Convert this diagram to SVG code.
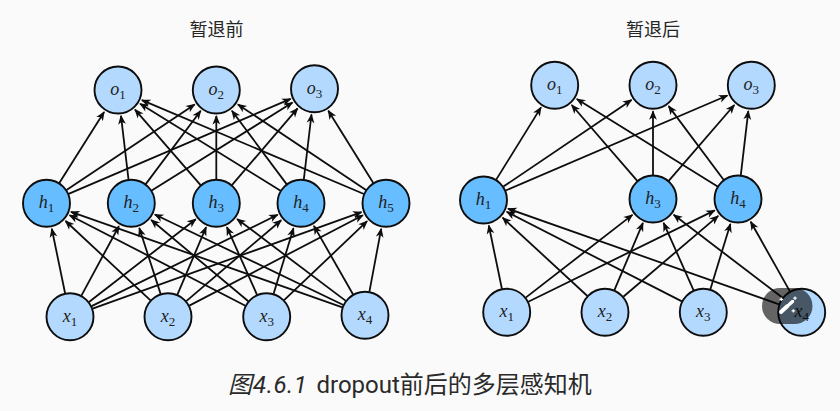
<svg xmlns="http://www.w3.org/2000/svg" width="840" height="411" viewBox="0 0 840 411">
<style>
.c{fill:none;stroke:#0d0d0d;stroke-width:1.8;marker-end:url(#a)}
.n{stroke:#0d0d0d;stroke-width:1.9}
.l{fill:#b3d9ff}.h{fill:#66bdff}
.t{font:italic 18px "Liberation Serif",serif;fill:#222;text-anchor:middle}
.s{font-size:13px;font-style:normal}
.ti{font:18px "Noto Sans CJK SC",sans-serif;fill:#262626;text-anchor:middle}
.cap{font:400 24px Roboto,"Noto Sans CJK SC",sans-serif;fill:#2a2a2a}
</style>
<defs>
<marker id="a" markerUnits="userSpaceOnUse" viewBox="-1 -5 12 10" markerWidth="12" markerHeight="10" refX="8.5" refY="0" orient="auto">
<path d="M0,-3.9L9.5,0L0,3.9L2.6,0Z" fill="#0d0d0d"/>
</marker>
<circle id="nc" r="23.5" class="n"/>
</defs>
<rect width="840" height="411" fill="#fafafa"/>
<text class="ti" x="216.5" y="35.5">暂退前</text>
<text class="ti" x="653" y="35.5">暂退后</text>
<g id="connectors">
<path class="c" d="M59.3 183L104.1 112"/>
<path class="c" d="M66.5 190L194.7 104.4"/>
<path class="c" d="M68.6 193.9L290.6 98.9"/>
<path class="c" d="M128.5 179.5L121 115.8"/>
<path class="c" d="M145.7 184.1L200.7 110.8"/>
<path class="c" d="M151.7 190.6L292.5 102.5"/>
<path class="c" d="M200.6 185.2L135 109.6"/>
<path class="c" d="M216.3 179.3L216.3 116"/>
<path class="c" d="M231.9 185.1L297.6 108.4"/>
<path class="c" d="M280.6 190.7L140.1 103.7"/>
<path class="c" d="M286.6 184.1L231.9 110.8"/>
<path class="c" d="M303.8 179.5L311.5 114.5"/>
<path class="c" d="M363.9 194L141.9 100.1"/>
<path class="c" d="M366 190L237.9 104.4"/>
<path class="c" d="M373.3 183L328.3 110.7"/>
<path class="c" d="M65.1 293.2L51.8 228.8"/>
<path class="c" d="M81.4 295.6L118.9 226.2"/>
<path class="c" d="M89 302L195.8 219.2"/>
<path class="c" d="M91.6 306.1L277.7 214.8"/>
<path class="c" d="M92.6 308.6L361.5 212.1"/>
<path class="c" d="M150.5 300.3L65.5 221"/>
<path class="c" d="M160.6 293.9L139.3 228"/>
<path class="c" d="M177.4 294.6L206.1 227.2"/>
<path class="c" d="M186.3 301.1L281.2 220.2"/>
<path class="c" d="M189.3 305.6L362.9 215.3"/>
<path class="c" d="M245.4 305.7L69.6 215.2"/>
<path class="c" d="M248.3 301.3L151.2 220"/>
<path class="c" d="M257 294.8L226.9 227.1"/>
<path class="c" d="M273.6 293.7L293.5 228.2"/>
<path class="c" d="M284.1 300.2L367.1 221.2"/>
<path class="c" d="M342.4 307.3L71 211.9"/>
<path class="c" d="M343.4 305L154.8 214.5"/>
<path class="c" d="M345.8 300.9L237.1 219"/>
<path class="c" d="M353.1 294.5L313.9 225.9"/>
<path class="c" d="M369.4 291.7L381.2 228.8"/>
<path class="c" d="M496.2 179.6L541 107.4"/>
<path class="c" d="M503.4 186.6L631.5 99.9"/>
<path class="c" d="M505.6 190.5L727.4 95.5"/>
<path class="c" d="M637.3 180.9L571.7 105"/>
<path class="c" d="M653 175L653 111.3"/>
<path class="c" d="M668.7 180.9L734.3 105"/>
<path class="c" d="M717.6 186.4L576.8 99"/>
<path class="c" d="M723.6 179.8L668.6 106.1"/>
<path class="c" d="M740.8 175.2L748.3 111.1"/>
<path class="c" d="M501.9 288.8L488.8 225.5"/>
<path class="c" d="M525.7 297.6L632.4 214.9"/>
<path class="c" d="M528.3 301.7L714.7 210.4"/>
<path class="c" d="M587.4 296L502.6 217.7"/>
<path class="c" d="M614.4 290.2L642.9 222.9"/>
<path class="c" d="M623.3 296.7L718.2 215.9"/>
<path class="c" d="M681.9 301.4L506.7 211.8"/>
<path class="c" d="M693.6 290.4L663.6 222.8"/>
<path class="c" d="M710.3 289.4L730.4 223.9"/>
<path class="c" d="M779.1 304.3L508 208.7"/>
<path class="c" d="M782.6 297.8L673.7 214.8"/>
<path class="c" d="M789.9 291.4L750.7 221.7"/>
</g>
<g id="L-o1"><use href="#nc" class="l" x="118" y="90"/><text class="t" x="118" y="95">o<tspan class="s" dy="4">1</tspan></text></g>
<g id="L-o2"><use href="#nc" class="l" x="216.3" y="90"/><text class="t" x="216.3" y="95">o<tspan class="s" dy="4">2</tspan></text></g>
<g id="L-o3"><use href="#nc" class="l" x="314.5" y="88.7"/><text class="t" x="314.5" y="93.7">o<tspan class="s" dy="4">3</tspan></text></g>
<g id="L-h1"><use href="#nc" class="h" x="46.5" y="203.3"/><text class="t" x="46.5" y="208">h<tspan class="s" dy="4">1</tspan></text></g>
<g id="L-h2"><use href="#nc" class="h" x="131.3" y="203.3"/><text class="t" x="131.3" y="208">h<tspan class="s" dy="4">2</tspan></text></g>
<g id="L-h3"><use href="#nc" class="h" x="216.3" y="203.3"/><text class="t" x="216.3" y="208">h<tspan class="s" dy="4">3</tspan></text></g>
<g id="L-h4"><use href="#nc" class="h" x="301" y="203.3"/><text class="t" x="301" y="208">h<tspan class="s" dy="4">4</tspan></text></g>
<g id="L-h5"><use href="#nc" class="h" x="386" y="203.3"/><text class="t" x="386" y="208">h<tspan class="s" dy="4">5</tspan></text></g>
<g id="L-x1"><use href="#nc" class="l" x="70" y="316.7"/><text class="t" x="70" y="321.5">x<tspan class="s" dy="4">1</tspan></text></g>
<g id="L-x2"><use href="#nc" class="l" x="168" y="316.7"/><text class="t" x="168" y="321.5">x<tspan class="s" dy="4">2</tspan></text></g>
<g id="L-x3"><use href="#nc" class="l" x="266.7" y="316.7"/><text class="t" x="266.7" y="321.5">x<tspan class="s" dy="4">3</tspan></text></g>
<g id="L-x4"><use href="#nc" class="l" x="365" y="315.3"/><text class="t" x="365" y="320">x<tspan class="s" dy="4">4</tspan></text></g>
<g id="R-o1"><use href="#nc" class="l" x="554.7" y="85.3"/><text class="t" x="554.7" y="90.3">o<tspan class="s" dy="4">1</tspan></text></g>
<g id="R-o2"><use href="#nc" class="l" x="653" y="85.3"/><text class="t" x="653" y="90.3">o<tspan class="s" dy="4">2</tspan></text></g>
<g id="R-o3"><use href="#nc" class="l" x="751.3" y="85.3"/><text class="t" x="751.3" y="90.3">o<tspan class="s" dy="4">3</tspan></text></g>
<g id="R-h1"><use href="#nc" class="h" x="483.5" y="200"/><text class="t" x="483.5" y="205">h<tspan class="s" dy="4">1</tspan></text></g>
<g id="R-h3"><use href="#nc" class="h" x="653" y="199"/><text class="t" x="653" y="204">h<tspan class="s" dy="4">3</tspan></text></g>
<g id="R-h4"><use href="#nc" class="h" x="738" y="199"/><text class="t" x="738" y="204">h<tspan class="s" dy="4">4</tspan></text></g>
<g id="R-x1"><use href="#nc" class="l" x="506.7" y="312.3"/><text class="t" x="506.7" y="317">x<tspan class="s" dy="4">1</tspan></text></g>
<g id="R-x2"><use href="#nc" class="l" x="605" y="312.3"/><text class="t" x="605" y="317">x<tspan class="s" dy="4">2</tspan></text></g>
<g id="R-x3"><use href="#nc" class="l" x="703.3" y="312.3"/><text class="t" x="703.3" y="317">x<tspan class="s" dy="4">3</tspan></text></g>
<g id="R-x4"><use href="#nc" class="l" x="801.7" y="312.3"/><text class="t" x="801.7" y="317">x<tspan class="s" dy="4">4</tspan></text></g>
<g id="wand">
<rect x="762" y="288" width="50.5" height="36" rx="18" fill="#000" fill-opacity=".6"/>
<path d="M781 312L787.5 306" stroke="#fff" stroke-width="4" stroke-linecap="round"/>
<path d="M789.5 304.2L792.5 301.5" stroke="#fff" stroke-width="3.5" stroke-linecap="round"/>
<path d="M781.3 297.5v3.6M779.5 299.3h3.6M795 296.5v3.4M793.3 298.2h3.4M793.3 309.2v3.4M791.6 310.9h3.4" stroke="#fff" stroke-width="1.2"/>
</g>
<text class="cap" y="393"><tspan x="228" font-style="italic">图</tspan><tspan x="253" font-style="italic" letter-spacing=".6">4.6.1</tspan><tspan x="316.5">dropout前后的多层感知机</tspan></text>
</svg>
